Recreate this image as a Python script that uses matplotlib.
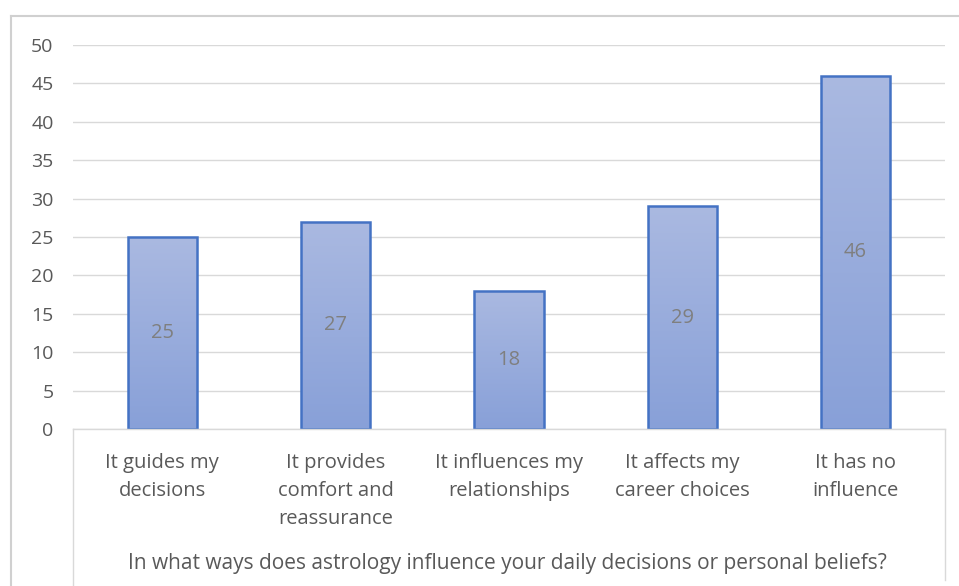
import numpy as np
import matplotlib.pyplot as plt
from matplotlib.lines import Line2D
from matplotlib.patches import Rectangle
from matplotlib.colors import LinearSegmentedColormap

categories = ["It guides my\ndecisions", "It provides\ncomfort and\nreassurance",
              "It influences my\nrelationships", "It affects my\ncareer choices",
              "It has no\ninfluence"]
values = [25, 27, 18, 29, 46]
yticks = [0, 5, 10, 15, 20, 25, 30, 35, 40, 45, 50]
xlabel = "In what ways does astrology influence your daily decisions or personal beliefs?"

plt.rcParams['font.family'] = ['Open Sans', 'DejaVu Sans']

W, H = 959, 586
fig = plt.figure(figsize=(W / 100, H / 100), dpi=100)
ax = fig.add_axes([73 / W, (H - 429) / H, (945 - 73) / W, (429 - 45) / H])

x = np.arange(len(values))
bars = ax.bar(x, values, width=0.4, color='none', edgecolor='#4472C4', linewidth=1.8, zorder=3)

# vertical gradient inside each bar
grad = np.linspace(0, 1, 256).reshape(-1, 1)
cmap = LinearSegmentedColormap.from_list('g', ['#88A0D8', '#AAB9E1'])
for b in bars:
    x0, w, h = b.get_x(), b.get_width(), b.get_height()
    im = ax.imshow(grad, cmap=cmap, origin='lower', aspect='auto',
                   extent=[x0, x0 + w, 0, h], zorder=2)
    im.set_clip_path(Rectangle((x0, 0), w, h, transform=ax.transData))
    ax.text(x0 + w / 2, h / 2, str(h), ha='center', va='center',
            fontsize=14.5, color='#7F7F7F', zorder=4)

ax.set_xlim(-0.515, len(values) - 0.484)
ax.set_ylim(0, 50)
ax.set_yticks(yticks)
ax.set_xticks(x)
ax.set_xticklabels(categories, fontsize=14.5, color='#595959', linespacing=1.55)
ax.tick_params(axis='y', labelsize=14, labelcolor='#595959', length=0, pad=14)
ax.tick_params(axis='x', length=0, pad=17)
ax.grid(axis='y', color='#D9D9D9', linewidth=1, zorder=0)
for s in ax.spines.values():
    s.set_visible(False)

# axis title
fig.text(507 / W, 1 - 563 / H, xlabel, ha='center', va='center', fontsize=15, color='#595959')

# category box and outer chart border
def fline(xs, ys, c='#D9D9D9', lw=1):
    fig.add_artist(Line2D([v / W for v in xs], [1 - v / H for v in ys], color=c, linewidth=lw))

fline([73, 73], [429, 586])
fline([73, 945], [429, 429])
fline([945, 945], [429, 580])
fline([11, 11], [16, 586], c='#D0D0D0', lw=1.5)
fline([11, 959], [16, 16], c='#D0D0D0', lw=1.5)

fig.savefig('out.png', dpi=100, facecolor='white')
